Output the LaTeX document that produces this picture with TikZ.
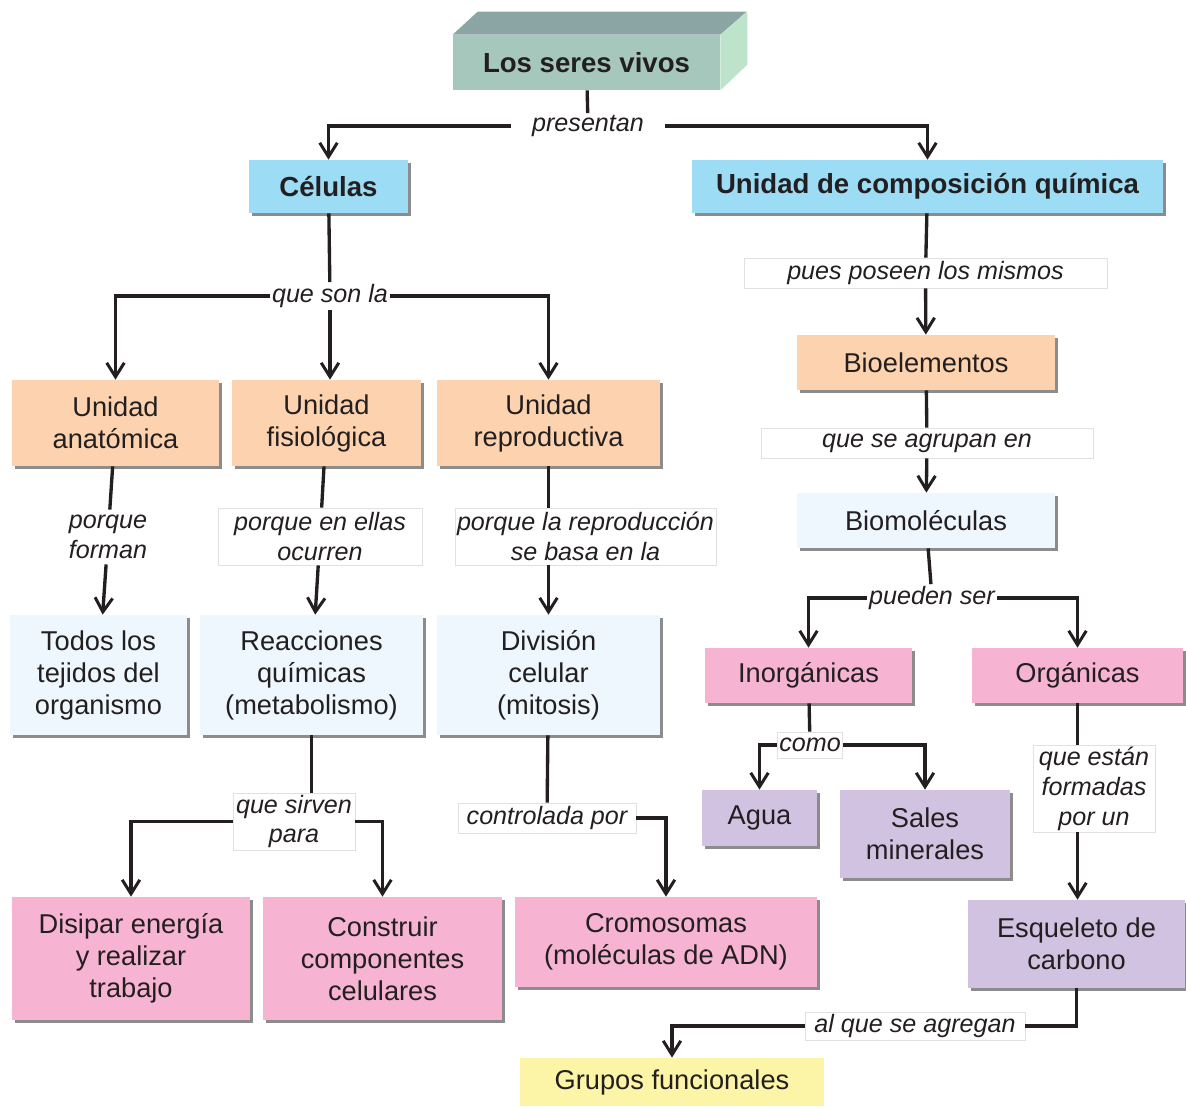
\documentclass[tikz,border=0pt]{standalone}
\usepackage{fontspec}
\setmainfont{Liberation Sans}
\usetikzlibrary{arrows.meta,shadows}

\definecolor{peach}{RGB}{252,211,174}
\definecolor{skyblue}{RGB}{157,220,245}
\definecolor{paleblue}{RGB}{238,247,253}
\definecolor{pinkbox}{RGB}{247,180,210}
\definecolor{lilac}{RGB}{208,194,224}
\definecolor{paleyellow}{RGB}{252,245,168}
\definecolor{sagefront}{RGB}{166,200,188}
\definecolor{sagetop}{RGB}{139,164,164}
\definecolor{sageside}{RGB}{189,227,203}
\definecolor{ink}{RGB}{35,31,32}

\tikzset{
  plainbox/.style={rectangle, inner sep=2pt, align=center, text=ink,
    font=\fontsize{15.5}{18.2}\selectfont},
  concept/.style={plainbox,
    drop shadow={shadow xshift=1.6pt, shadow yshift=-1.6pt, fill=black!45, opacity=1}},
  titlebox/.style={concept, fill=skyblue, font=\bfseries\fontsize{15.7}{18.5}\selectfont},
  peachbox/.style={concept, fill=peach},
  palebox/.style={concept, fill=paleblue},
  pinkybox/.style={concept, fill=pinkbox},
  lilacbox/.style={concept, fill=lilac},
  linkword/.style={fill=white, inner sep=1pt, align=center, text=ink,
    font=\itshape\fontsize{14.3}{17}\selectfont},
  linkbox/.style={linkword, draw=black!12, line width=0.5pt},
  link/.style={draw=ink, line width=1.9pt},
  flow/.style={link, -{Straight Barb[length=8pt, width=10pt, line width=1.7pt]}}
}

\begin{document}
\begin{tikzpicture}[x=0.02cm, y=-0.02cm]
\useasboundingbox (0,0) rectangle (1186,1108);

\node[plainbox, fill=sagefront, minimum width=5.34cm, minimum height=1.1cm,
  font=\bfseries\fontsize{15.7}{18.5}\selectfont] (seres) at (586.5,62.5) {Los seres vivos};
\fill[sagetop] (seres.north west) -- ++(25,-23) -- ++(269,0) -- (seres.north east) -- cycle;
\fill[sageside] (seres.north east) -- ++(27,-23) -- ++(0,53) -- (seres.south east) -- cycle;

\node[titlebox, minimum width=3.18cm, minimum height=1.06cm] (cel) at (328.5,186.5) {Células};
\node[titlebox, minimum width=9.42cm, minimum height=1.06cm] (ucq) at (927.5,186.5) {Unidad de composición química};

\node[peachbox, minimum width=4.14cm, minimum height=1.72cm] (anat) at (115.5,423) {Unidad\\anatómica};
\node[peachbox, minimum width=3.78cm, minimum height=1.72cm] (fisio) at (326.5,423) {Unidad\\fisiológica};
\node[peachbox, minimum width=4.46cm, minimum height=1.72cm] (repro) at (548.5,423) {Unidad\\reproductiva};

\node[palebox, minimum width=3.54cm, minimum height=2.4cm] (todos) at (98.5,675) {Todos los\\tejidos del\\organismo};
\node[palebox, minimum width=4.46cm, minimum height=2.4cm] (reacc) at (311.5,675) {Reacciones\\químicas\\(metabolismo)};
\node[palebox, minimum width=4.46cm, minimum height=2.4cm] (divis) at (548.5,675) {División\\celular\\(mitosis)};

\node[pinkybox, minimum width=4.76cm, minimum height=2.46cm] (disip) at (131,958.5) {Disipar energía\\y realizar\\trabajo};
\node[pinkybox, minimum width=4.78cm, minimum height=2.46cm] (constr) at (382.5,958.5) {Construir\\componentes\\celulares};
\node[pinkybox, minimum width=6.04cm, minimum height=1.8cm] (cromo) at (666,942) {Cromosomas\\(moléculas de ADN)};

\node[peachbox, minimum width=5.16cm, minimum height=1.1cm] (bioel) at (926,362.5) {Bioelementos};
\node[palebox, minimum width=5.16cm, minimum height=1.1cm] (biomol) at (926,520.5) {Biomoléculas};
\node[pinkybox, minimum width=4.14cm, minimum height=1.1cm] (inorg) at (808.5,675.5) {Inorgánicas};
\node[pinkybox, minimum width=4.22cm, minimum height=1.1cm] (organ) at (1077.5,675.5) {Orgánicas};
\node[lilacbox, minimum width=2.3cm, minimum height=1.12cm] (agua) at (759.5,818) {Agua};
\node[lilacbox, minimum width=3.4cm, minimum height=1.76cm] (sales) at (925,834) {Sales\\minerales};
\node[lilacbox, minimum width=4.34cm, minimum height=1.76cm] (esque) at (1076.5,944) {Esqueleto de\\carbono};
\node[plainbox, fill=paleyellow, minimum width=6.08cm, minimum height=0.96cm] (grupos) at (672,1082) {Grupos funcionales};

\node[linkword, inner xsep=12pt] (pres) at (588,126) {presentan};
\node[linkword] (queson) at (330,296) {que son la};
\node[linkword, inner sep=3pt] (forman) at (108,537) {porque\\forman};
\node[linkbox, minimum width=4.08cm, minimum height=1.14cm] (ellas) at (320,536.5) {porque en ellas\\ocurren};
\node[linkbox, minimum width=5.22cm, minimum height=1.14cm] (basa) at (585.5,536.5) {porque la reproducción\\se basa en la};
\node[linkbox, minimum width=2.44cm, minimum height=1.14cm] (sirven) at (294,821.5) {que sirven\\para};
\node[linkbox, minimum width=3.56cm, minimum height=0.6cm] (contr) at (547,818) {controlada por};
\node[linkbox, minimum width=7.26cm, minimum height=0.6cm] (pues) at (925.5,273) {pues poseen los mismos};
\node[linkbox, minimum width=6.64cm, minimum height=0.6cm] (agrup) at (927,443) {que se agrupan en};
\node[linkword] (pueden) at (932,598) {pueden ser};
\node[linkbox, minimum width=1.28cm, minimum height=0.52cm] (como) at (810,745) {como};
\node[linkbox, minimum width=2.44cm, minimum height=1.74cm] (formad) at (1094,788.5) {que están\\formadas\\por un};
\node[linkbox, minimum width=4.4cm, minimum height=0.56cm] (agreg) at (915,1026) {al que se agregan};

\draw[link] (seres) -- (pres);
\draw[flow] (pres.west) -| (cel.north);
\draw[flow] (pres.east) -| (ucq.north);

\draw[link] (cel) -- (queson);
\draw[flow] (queson.west) -| (anat.north);
\draw[flow] (queson.south) -- (queson.south |- fisio.north);
\draw[flow] (queson.east) -| (repro.north);

\draw[link] (anat) -- (forman);
\draw[flow] (forman) -- (todos);
\draw[link] (fisio) -- (ellas);
\draw[flow] (ellas) -- (reacc);
\draw[link] (repro.south) -- (repro.south |- basa.north);
\draw[flow] (basa.south -| divis.north) -- (divis.north);

\draw[link] (reacc.south) -- (reacc.south |- sirven.north);
\draw[flow] (sirven.west) -| (disip.north);
\draw[flow] (sirven.east) -| (constr.north);
\draw[link] (divis) -- (contr);
\draw[flow] (contr.east) -| (cromo.north);

\draw[link] (ucq) -- (pues);
\draw[flow] (pues) -- (bioel);
\draw[link] (bioel) -- (agrup);
\draw[flow] (agrup) -- (biomol);
\draw[link] (biomol) -- (pueden);
\draw[flow] (pueden.west) -| (inorg.north);
\draw[flow] (pueden.east) -| (organ.north);

\draw[link] (inorg) -- (como);
\draw[flow] (como.west) -| (agua.north);
\draw[flow] (como.east) -| (sales.north);
\draw[link] (organ.south) -- (organ.south |- formad.north);
\draw[flow] (formad.south -| organ.south) -- (esque.north -| organ.south);

\draw[link] (esque.south) |- (agreg.east);
\draw[flow] (agreg.west) -| (grupos.north);
\end{tikzpicture}
\end{document}
